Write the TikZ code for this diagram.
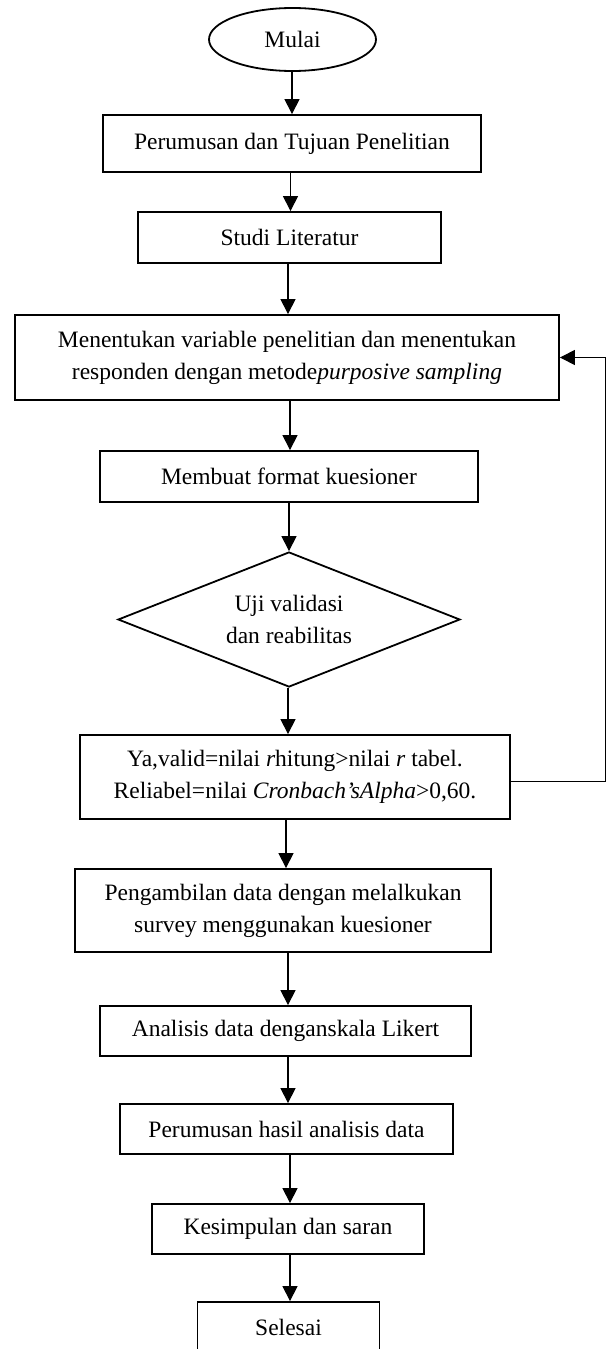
\documentclass[tikz,border=0pt]{standalone}
\usepackage{fontspec}
\setmainfont{Liberation Serif}
\usetikzlibrary{shapes.geometric,arrows.meta}
\newcommand{\teksUkuran}[0]{\fontsize{23.5}{32}\selectfont}

\begin{document}
\begin{tikzpicture}[x=1pt, y=-1pt]
  \tikzset{every node/.style={font=\teksUkuran,align=center,inner sep=0pt},
    kotak/.style={draw,line width=1.8pt},
    panah/.style={-{Triangle[length=15pt,width=15pt]},line width=1.1pt}}
  \useasboundingbox (0,0) rectangle (611,1349);
  \node[kotak,ellipse,minimum width=167pt,minimum height=63pt] (mulai) at (292.5,39.5) {Mulai};
  \node[kotak,minimum width=378pt,minimum height=57pt] (rumusan) at (292,143.5) {Perumusan dan Tujuan Penelitian};
  \node[kotak,minimum width=303pt,minimum height=51pt] (studi) at (289.5,237.5) {Studi Literatur};
  \node[kotak,minimum width=544pt,minimum height=85pt] (tentukan) at (287,357.5)
    {Menentukan variable penelitian dan menentukan\\responden dengan metode\textit{purposive sampling}};
  \node[kotak,minimum width=378pt,minimum height=51pt] (format) at (289,476.5) {Membuat format kuesioner};
  \node[kotak,diamond,aspect=2.5,minimum width=342pt,minimum height=135pt] (uji) at (289,619.5)
    {Uji validasi\\dan reabilitas};
  \node[kotak,minimum width=430pt,minimum height=84pt] (valid) at (295,777)
    {Ya,valid=nilai \textit{r}hitung>nilai \textit{r} tabel.\\Reliabel=nilai \textit{Cronbach’sAlpha}>0,60.};
  \node[kotak,minimum width=416pt,minimum height=83pt] (ambil) at (283,910.5)
    {Pengambilan data dengan melalkukan\\survey menggunakan kuesioner};
  \node[kotak,minimum width=371pt,minimum height=50pt] (analisis) at (285.5,1031) {Analisis data denganskala Likert};
  \node[kotak,minimum width=333pt,minimum height=50pt] (hasil) at (286.5,1129) {Perumusan hasil analisis data};
  \node[kotak,minimum width=272pt,minimum height=50pt] (simpul) at (288,1229) {Kesimpulan dan saran};
  \node[kotak,minimum width=182pt,minimum height=50pt] (selesai) at (288.5,1327) {Selesai};

  \foreach \a/\b/\x in {mulai/rumusan/292,rumusan/studi/290.5,studi/tentukan/288,tentukan/format/290,
    format/uji/289,uji/valid/288,valid/ambil/286,ambil/analisis/288,analisis/hasil/288,
    hasil/simpul/290,simpul/selesai/290}
    \draw[panah] (\a.south -| \x,0) -- (\b.north -| \x,0);
  \draw[panah] ([yshift=-4.7pt]valid.east) -- ++(95,0) |- (tentukan.east);
\end{tikzpicture}
\end{document}
